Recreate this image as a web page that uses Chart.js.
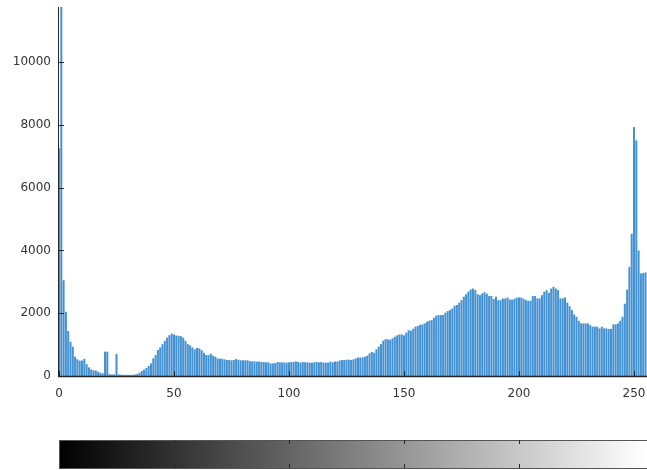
<!DOCTYPE html>
<html>
<head>
<meta charset="utf-8">
<script src="https://cdn.jsdelivr.net/npm/chart.js@4/dist/chart.umd.min.js"></script>
<style>
  html, body { margin: 0; padding: 0; background: #fff; overflow: hidden; }
  #wrap { width: 647px; height: 470px; position: relative; }
</style>
</head>
<body>
<div id="wrap"><canvas id="histChart" width="647" height="470"></canvas></div>
<script>
// pixel counts per grey level (0..255)
const countsDark = [
  7250, 12500, 3050, 2045, 1430, 1090, 930, 615, 530, 490,
  490, 545, 380, 275, 210, 180, 175, 140, 105, 85,
  775, 775, 60, 50, 50, 700, 50, 40, 40, 35,
  35, 35, 40, 45, 60, 105, 160, 200, 255, 320,
  400, 560, 670, 830, 910, 1015, 1120, 1220, 1300, 1355,
  1320, 1290, 1280, 1270, 1220, 1120, 1015, 975, 910, 850,
  895
];
const countsMid = [
  880, 825, 740, 670, 660, 710, 645, 615, 560,
  550, 550, 530, 510, 510, 500, 510, 540, 520, 500,
  500, 500, 500, 475, 465, 465, 455, 465, 445, 445,
  435, 435, 400, 400, 410, 445, 435, 435, 435, 425,
  435, 445, 445, 465, 445, 425, 445, 435, 435, 425,
  425, 435, 445, 435, 445, 425, 425, 425, 455, 435,
  465, 455, 490, 510, 510
];
const countsLight = [
  520, 520, 510, 530, 560, 590, 590, 590, 615, 645,
  720, 765, 740, 850, 935, 1015, 1125, 1175, 1165, 1155,
  1200, 1250, 1295, 1325, 1325, 1295, 1380, 1460, 1440, 1505,
  1570, 1590, 1630, 1640, 1675, 1730, 1760, 1780, 1855, 1920,
  1940, 1940, 1950, 2015, 2065, 2100, 2150, 2240, 2260, 2335,
  2415, 2525, 2605, 2685, 2755, 2785, 2735, 2605, 2575, 2630,
  2670, 2620, 2545
];
const countsBright = [
  2545, 2450, 2525, 2415, 2415, 2470, 2470, 2500, 2440, 2430,
  2460, 2490, 2500, 2500, 2460, 2415, 2395, 2395, 2545, 2545,
  2470, 2470, 2575, 2685, 2735, 2650, 2785, 2840, 2785, 2735,
  2470, 2470, 2500, 2335, 2225, 2100, 1960, 1885, 1760, 1675,
  1675, 1675, 1675, 1620, 1570, 1570, 1570, 1515, 1570, 1515,
  1515, 1495, 1495, 1645, 1645, 1675, 1760, 1885, 2300, 2750,
  3475, 4530, 7925, 7500, 4000, 3265, 3280, 3300
];
const counts = countsDark.concat(countsMid, countsLight, countsBright);
const levels = counts.map((_, i) => i);

const xTicks = [0, 50, 100, 150, 200, 250];
const yTicks = [0, 2000, 4000, 6000, 8000, 10000];
const barTicks = [50, 100, 150, 200];

const axisColor = "#262626";
const labelFont = { family: "DejaVu Sans", size: 12 };

const axesPlugin = {
  id: "axesAndColorbar",
  afterDatasetsDraw(chart) {
    const { ctx, chartArea, scales } = chart;
    const xs = scales.x, ys = scales.y;
    ctx.save();

    // axis lines
    ctx.strokeStyle = axisColor;
    ctx.lineWidth = 1;
    ctx.beginPath();
    ctx.moveTo(chartArea.left - 0.5, chartArea.top);
    ctx.lineTo(chartArea.left - 0.5, chartArea.bottom);
    ctx.stroke();
    ctx.lineWidth = 1.5;
    ctx.beginPath();
    ctx.moveTo(chartArea.left - 1, chartArea.bottom + 0.5);
    ctx.lineTo(chartArea.right, chartArea.bottom + 0.5);
    ctx.stroke();

    // inward ticks
    ctx.lineWidth = 1;
    yTicks.forEach(v => {
      const y = Math.round(ys.getPixelForValue(v)) + 0.5;
      ctx.beginPath();
      ctx.moveTo(chartArea.left - 1, y);
      ctx.lineTo(chartArea.left + 5, y);
      ctx.stroke();
    });
    xTicks.forEach(v => {
      const x = Math.round(xs.getPixelForValue(v)) + 0.5;
      ctx.beginPath();
      ctx.moveTo(x, chartArea.bottom);
      ctx.lineTo(x, chartArea.bottom - 5);
      ctx.stroke();
    });

    // grey-level colorbar
    const top = 440, bottom = 468;
    const x0 = xs.getPixelForValue(0), x1 = xs.getPixelForValue(255);
    const grad = ctx.createLinearGradient(x0, 0, x1, 0);
    grad.addColorStop(0, "#000000");
    grad.addColorStop(1, "#ffffff");
    ctx.fillStyle = grad;
    ctx.fillRect(chartArea.left, top, chartArea.right - chartArea.left, bottom - top);
    ctx.strokeStyle = "#555";
    ctx.strokeRect(chartArea.left + 0.5, top + 0.5, chartArea.right - chartArea.left, bottom - top);
    ctx.strokeStyle = axisColor;
    barTicks.forEach(v => {
      const x = Math.round(xs.getPixelForValue(v)) + 0.5;
      ctx.beginPath();
      ctx.moveTo(x, top);
      ctx.lineTo(x, top + 4);
      ctx.moveTo(x, bottom);
      ctx.lineTo(x, bottom - 4);
      ctx.stroke();
    });
    ctx.restore();
  }
};

new Chart(document.getElementById("histChart"), {
  type: "bar",
  data: {
    datasets: [{
      data: levels.map(i => ({ x: i, y: counts[i] })),
      backgroundColor: "#4592d3",
      borderWidth: 0,
      barPercentage: 0.88,
      categoryPercentage: 1,
      clip: { left: 3, top: 0, right: 0, bottom: 0 }
    }]
  },
  options: {
    responsive: false,
    animation: false,
    layout: { padding: { top: 7, right: 0, left: 0, bottom: 0 } },
    plugins: { legend: { display: false }, tooltip: { enabled: false } },
    scales: {
      x: {
        type: "linear",
        min: 0,
        max: 255.65,
        offset: false,
        grid: { display: false, drawTicks: false },
        border: { display: false },
        afterBuildTicks: s => { s.ticks = xTicks.map(v => ({ value: v })); },
        afterFit: s => { s.height = 94; s.paddingLeft = 0; s.paddingRight = 0; },
        ticks: { padding: 11, color: "#333", font: labelFont, maxRotation: 0, autoSkip: false,
                 callback: v => String(v) }
      },
      y: {
        min: 0,
        max: 11750,
        grid: { display: false, drawTicks: false },
        border: { display: false },
        afterBuildTicks: s => { s.ticks = yTicks.map(v => ({ value: v })); },
        afterFit: s => { s.width = 59; s.paddingTop = 0; s.paddingBottom = 0; },
        ticks: { padding: 8, color: "#333", font: labelFont, callback: v => String(v) }
      }
    }
  },
  plugins: [axesPlugin]
});
</script>
</body>
</html>
